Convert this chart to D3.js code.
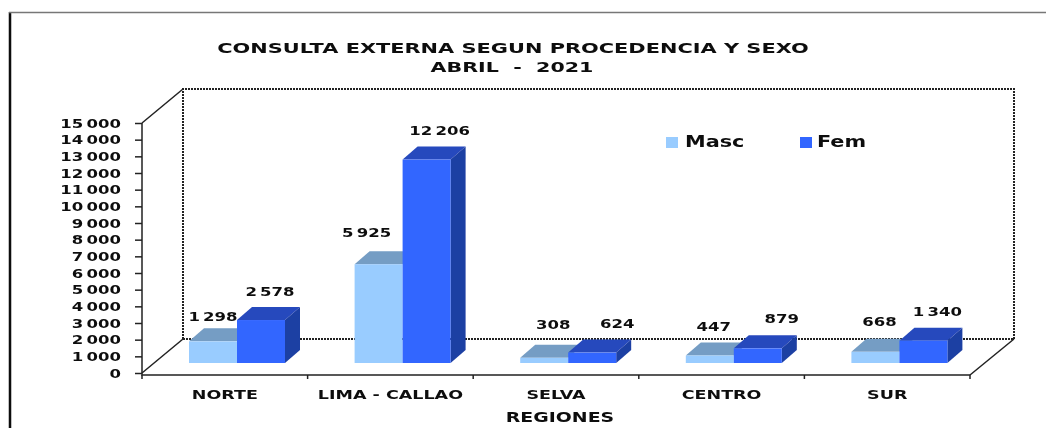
<!DOCTYPE html>
<html><head><meta charset="utf-8">
<script src="https://cdn.jsdelivr.net/npm/d3@7"></script>
<style>html,body{margin:0;padding:0;background:#fff}svg{display:block}text{font-family:"DejaVu Sans",sans-serif;font-weight:bold;fill:#111}</style>
</head><body><svg id="c" width="1046" height="428"></svg>
<script>
const categories=["NORTE","LIMA - CALLAO","SELVA","CENTRO","SUR"];
const seriesNames=["Masc","Fem"];
const masc=[1298,5925,308,447,668];
const fem=[2578,12206,624,879,1340];
const mascLabels=["1 298","5 925","308","447","668"];
const femLabels=["2 578","12 206","624","879","1 340"];
const yTicks=d3.range(0,15001,1000);
const yTickLabel=v=>v>=1000?Math.floor(v/1000)+" "+String(v%1000).padStart(3,"0"):String(v);
const colors={Masc:{front:"#99ccff",top:"#759dc4"},Fem:{front:"#3366ff",top:"#2649bd",side:"#1f3fa3"}};
// hand-moved data labels in the original: offset from the bar's top centre
const mascNudge=[[0,-20],[-12,-27],[9,-29],[4,-25],[4,-26]];
const femNudge=[[9,-24],[13,-25],[25,-25],[24,-25],[14,-25]];

const svg=d3.select("#c");
const defs=svg.append("defs");
defs.append("filter").attr("id","soft").append("feGaussianBlur").attr("stdDeviation",0.55);
const g=svg.append("g").attr("filter","url(#soft)");

// widen text horizontally, as in the stretched original
function stretch(sel,k){sel.each(function(){
  const len=this.getComputedTextLength();
  d3.select(this).attr("textLength",len*k).attr("lengthAdjust","spacingAndGlyphs");
});}

const x=d3.scaleBand().domain(categories).range([142,970]);
const sub=d3.scaleBand().domain(seriesNames).range([47,143]);
const y=d3.scaleLinear().domain([0,15000]).range([373,123]);
const back={dx:41,dy:-34}, barBase={dx:0,dy:-10}, depth={dx:15,dy:-13};

// frame
g.append("path").attr("d","M10,428V12").attr("stroke","#111").attr("stroke-width",2.5).attr("fill","none");
g.append("path").attr("d","M9,12.5H1046").attr("stroke","#777").attr("stroke-width",1.5).attr("fill","none");

// titles
g.append("text").attr("x",513).attr("y",53).attr("text-anchor","middle").attr("font-size",14.5).text("CONSULTA EXTERNA SEGUN PROCEDENCIA Y SEXO").call(stretch,1.44);
g.append("text").attr("x",512).attr("y",72).attr("text-anchor","middle").attr("font-size",14.5).attr("xml:space","preserve").text("ABRIL  -  2021").call(stretch,1.42);

// walls
const x0=142,x1=970,yT=y(15000),yB=y(0);
const wall=g.append("g").attr("fill","none").attr("stroke","#222");
wall.append("path").attr("d",`M${x0+back.dx},${yB+back.dy}V${yT+back.dy}H${x1+back.dx+3}V${yB+back.dy}H${x0+back.dx}`).attr("stroke-width",2).attr("stroke-dasharray","2 1");
wall.append("path").attr("d",`M${x0},${yT}L${x0+back.dx},${yT+back.dy}M${x0},${yB}L${x0+back.dx},${yB+back.dy}M${x1},${yB+2}L${x1+back.dx+3},${yB+back.dy}`).attr("stroke-width",1.5);
wall.append("path").attr("d",`M${x0},${yT}V${yB+2}H${x1}`).attr("stroke-width",1.5);

// y axis
const yAxis=d3.axisLeft(y).tickValues(yTicks).tickFormat(yTickLabel).tickSize(7).tickPadding(14);
const ya=g.append("g").attr("transform",`translate(${x0},0)`).call(yAxis);
ya.select(".domain").remove();
ya.selectAll("line").attr("stroke","#222").attr("stroke-width",1.5);
ya.selectAll("text").attr("font-size",13).attr("fill","#111").attr("font-family",'"DejaVu Sans",sans-serif').attr("word-spacing","-2px").call(stretch,1.27);

// x axis ticks
const xa=d3.axisBottom(x).tickSize(0).tickPadding(15);
const xg=g.append("g").attr("transform",`translate(0,${yB+2})`).call(xa);
xg.select(".domain").remove();
xg.selectAll("text").attr("font-size",12.5).attr("fill","#111").attr("font-family",'"DejaVu Sans",sans-serif').call(stretch,1.4);
g.selectAll(".xt").data([...categories.map(c=>x(c)),x1]).join("line").attr("class","xt")
 .attr("x1",d=>d).attr("x2",d=>d).attr("y1",yB+2).attr("y2",yB+6).attr("stroke","#222").attr("stroke-width",1.5);
g.append("text").attr("x",560).attr("y",422).attr("text-anchor","middle").attr("font-size",13.5).text("REGIONES").call(stretch,1.4);

// bars
function bar(name,vals,labels,nudge){
  const c=colors[name];
  const b=g.append("g");
  categories.forEach((cat,i)=>{
    const l=x(cat)+sub(name), w=sub.bandwidth(), r=l+w;
    const base=y(0)+barBase.dy, top=y(vals[i])+barBase.dy;
    const pts=a=>a.map(p=>p.join(",")).join(" ");
    b.append("polygon").attr("points",pts([[l,top],[r,top],[r+depth.dx,top+depth.dy],[l+depth.dx,top+depth.dy]])).attr("fill",c.top);
    if(c.side) b.append("polygon").attr("points",pts([[r,top],[r+depth.dx,top+depth.dy],[r+depth.dx,base+depth.dy],[r,base]])).attr("fill",c.side);
    b.append("rect").attr("x",l).attr("y",top).attr("width",w).attr("height",base-top).attr("fill",c.front);
  });
}
bar("Masc",masc,mascLabels,mascNudge);
bar("Fem",fem,femLabels,femNudge);
// data labels above all bars
function valueLabels(name,vals,labels,nudge){
  categories.forEach((cat,i)=>{
    const l=x(cat)+sub(name), w=sub.bandwidth(), top=y(vals[i])+barBase.dy;
    g.append("text").attr("x",l+w/2+nudge[i][0]).attr("y",top+nudge[i][1]).attr("text-anchor","middle").attr("font-size",13).attr("word-spacing","-2px").text(labels[i]).call(stretch,1.27);
  });
}
valueLabels("Masc",masc,mascLabels,mascNudge);
valueLabels("Fem",fem,femLabels,femNudge);

// legend
const lx={Masc:666,Fem:800}, ltx={Masc:685,Fem:817};
seriesNames.forEach(n=>{
  g.append("rect").attr("x",lx[n]).attr("y",137).attr("width",12).attr("height",11).attr("fill",colors[n].front);
  g.append("text").attr("x",ltx[n]).attr("y",147).attr("font-size",16).text(n).call(stretch,1.3);
});
</script></body></html>
